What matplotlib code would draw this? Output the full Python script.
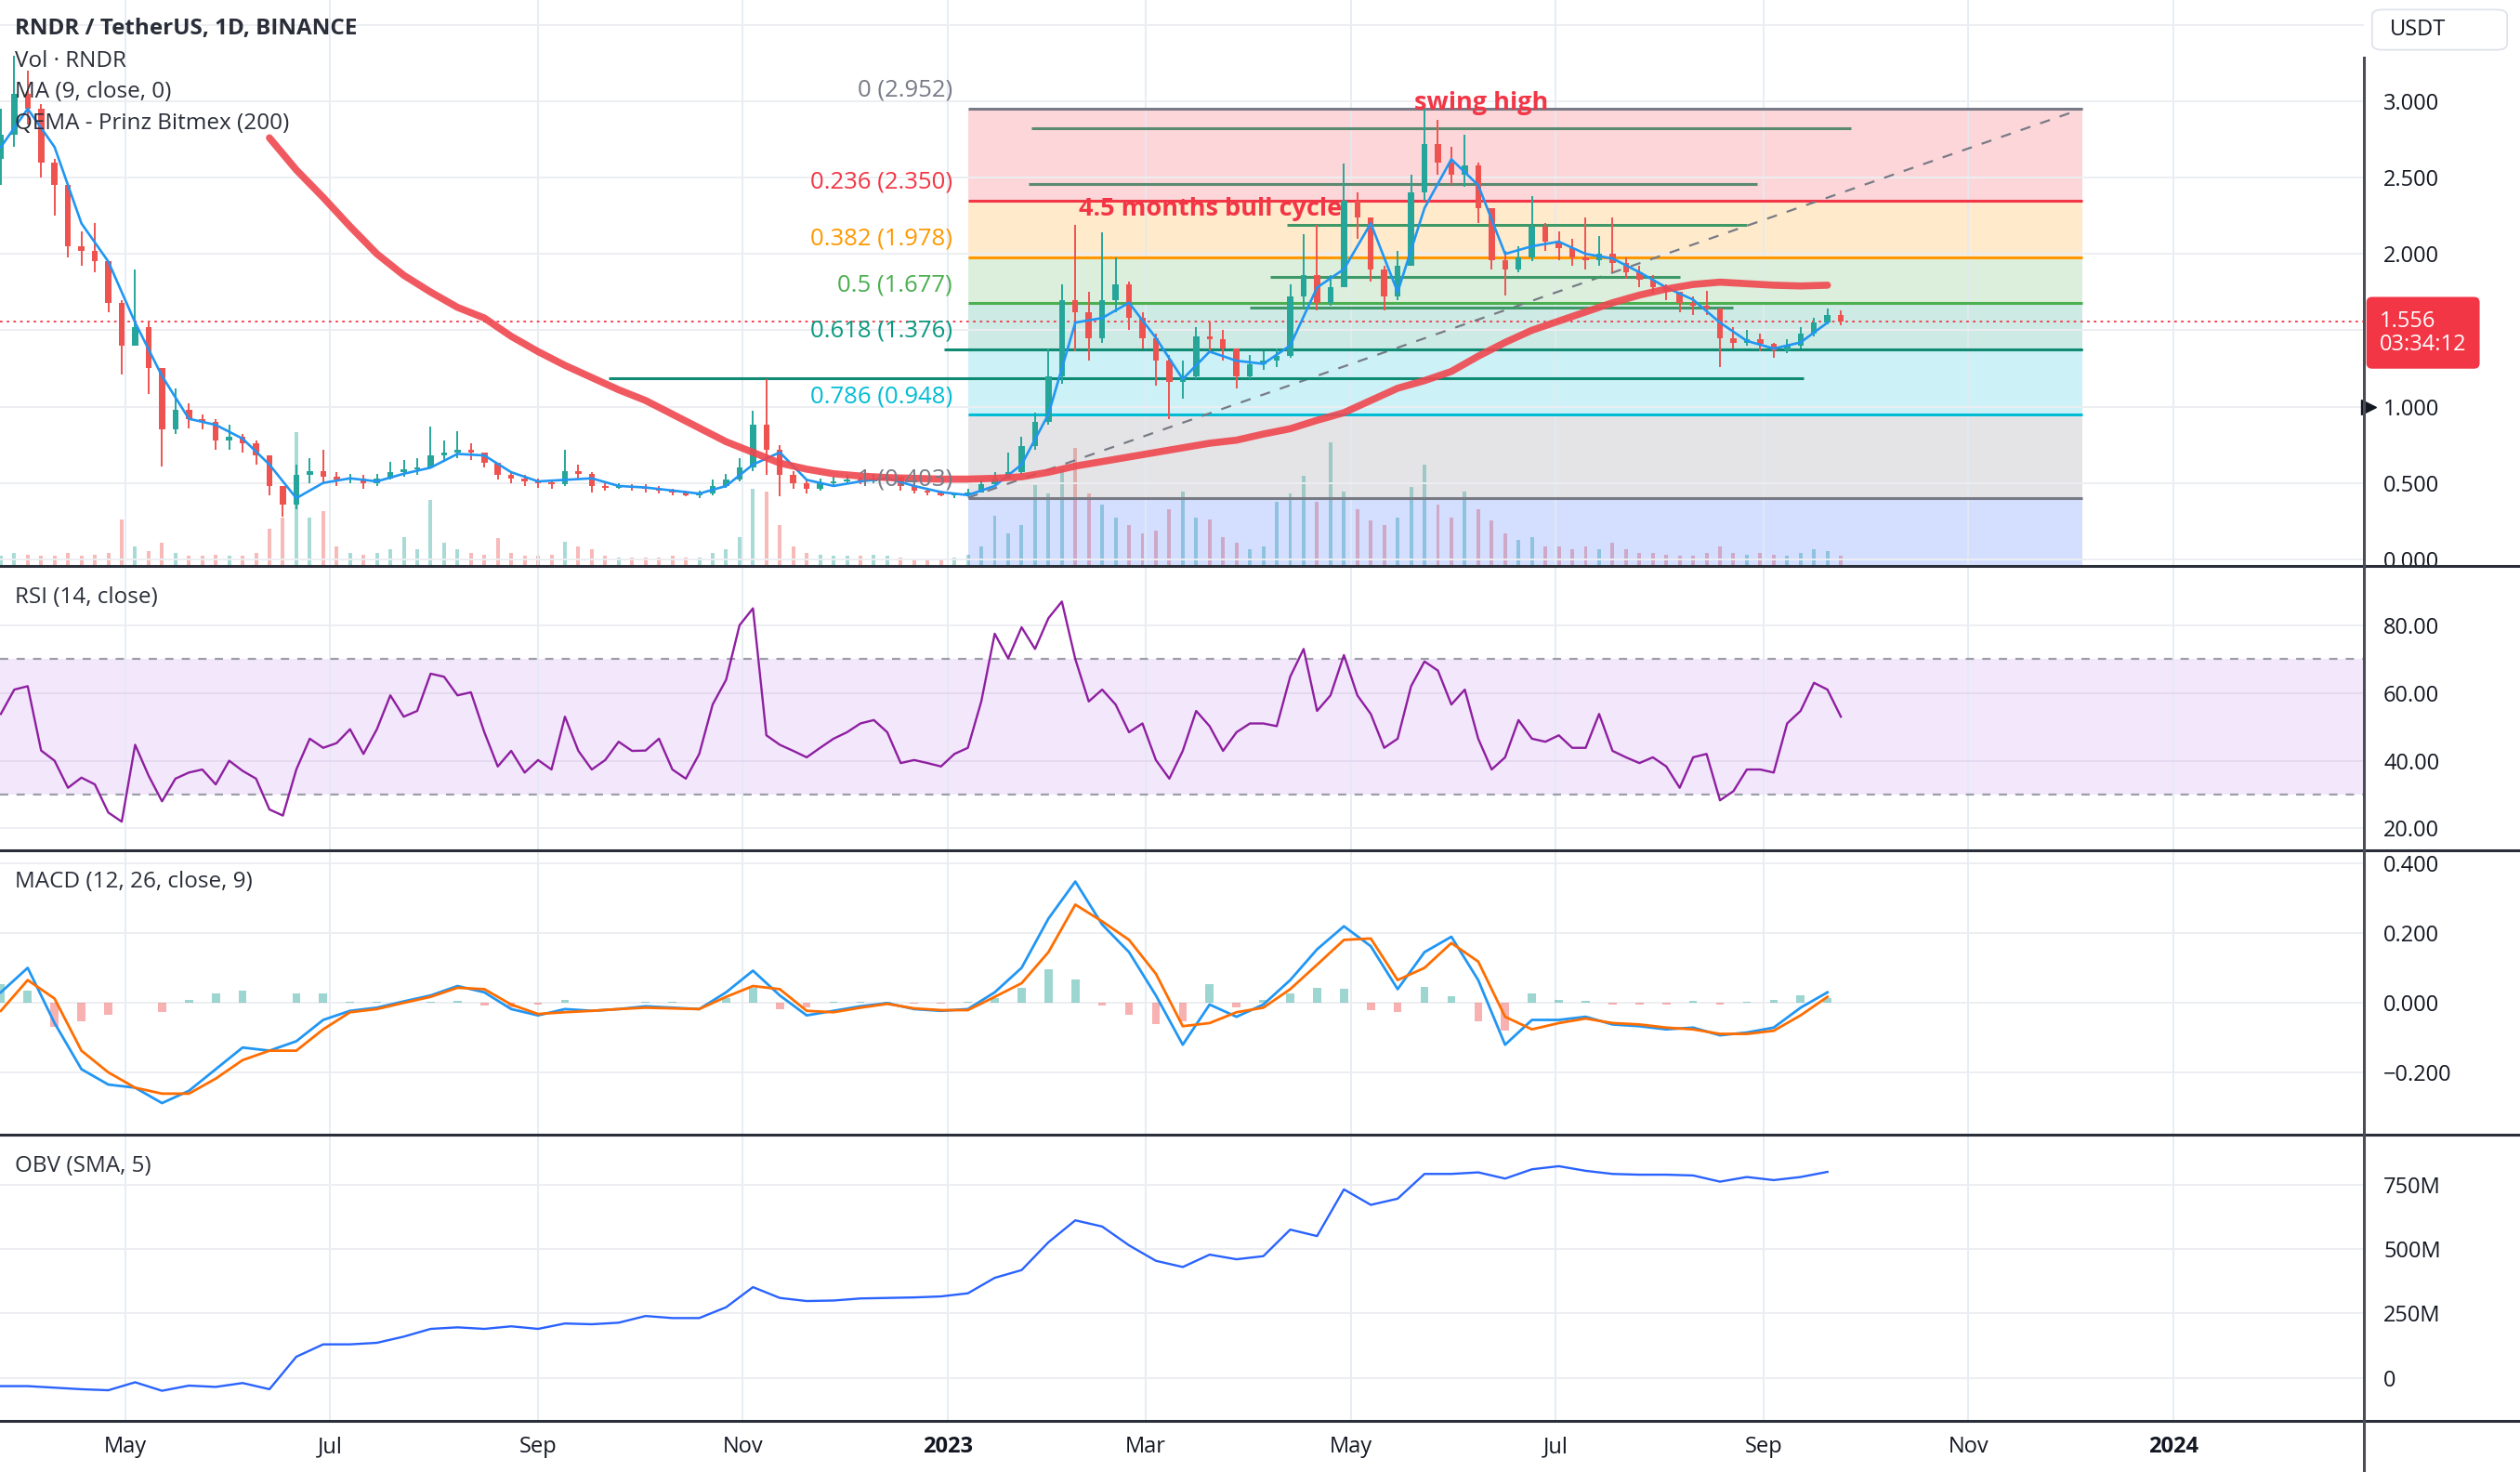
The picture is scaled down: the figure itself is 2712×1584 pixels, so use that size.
# RNDR / USDT daily chart with RSI, MACD and OBV panes (TradingView style)

import pandas as pd
import matplotlib
matplotlib.use("Agg")
import matplotlib.pyplot as plt
import matplotlib.dates as mdates
from matplotlib.lines import Line2D
from matplotlib.patches import FancyBboxPatch
from matplotlib.ticker import FuncFormatter

plt.rcParams['font.family'] = ['Open Sans', 'DejaVu Sans']

# ---------------- data ----------------
# candles sampled every 4 days from 2022-03-25
start = '2022-03-25'
first_open = 2.62
close = [2.78, 3.05, 2.95, 2.60, 2.45, 2.05, 2.02, 1.95, 1.68, 1.40,
         1.52, 1.25, 0.85, 0.98, 0.92, 0.90, 0.78, 0.80, 0.76, 0.68,
         0.48, 0.36, 0.55, 0.58, 0.54, 0.52, 0.53, 0.50, 0.53, 0.57,
         0.59, 0.60, 0.68, 0.70, 0.72, 0.70, 0.63, 0.55, 0.53, 0.51,
         0.50, 0.49, 0.58, 0.56, 0.48, 0.47, 0.48, 0.47, 0.46, 0.45,
         0.44, 0.42, 0.43, 0.48, 0.52, 0.60, 0.88, 0.72, 0.55, 0.50,
         0.46, 0.50, 0.51, 0.52, 0.51, 0.53, 0.54, 0.48, 0.45, 0.44,
         0.42, 0.42, 0.44, 0.49, 0.53, 0.57, 0.74, 0.90, 1.20, 1.70,
         1.62, 1.45, 1.70, 1.80, 1.58, 1.45, 1.30, 1.16, 1.20, 1.46,
         1.44, 1.38, 1.20, 1.28, 1.30, 1.33, 1.72, 1.86, 1.68, 1.78,
         2.35, 2.24, 1.90, 1.72, 1.92, 2.40, 2.72, 2.60, 2.52, 2.58,
         2.30, 1.96, 1.90, 1.98, 2.18, 2.08, 2.04, 1.98, 1.96, 2.00,
         1.94, 1.88, 1.83, 1.78, 1.75, 1.68, 1.66, 1.64, 1.45, 1.42,
         1.44, 1.41, 1.37, 1.40, 1.48, 1.55, 1.60, 1.556]
high = [2.95, 3.30, 3.20, 2.98, 2.62, 2.45, 2.15, 2.20, 1.95, 1.70,
        1.90, 1.55, 1.25, 1.12, 1.02, 0.95, 0.92, 0.88, 0.82, 0.78,
        0.68, 0.48, 0.62, 0.66, 0.72, 0.57, 0.56, 0.55, 0.56, 0.64,
        0.65, 0.66, 0.87, 0.78, 0.84, 0.76, 0.70, 0.63, 0.57, 0.55,
        0.53, 0.52, 0.72, 0.62, 0.57, 0.50, 0.50, 0.49, 0.49, 0.48,
        0.46, 0.45, 0.45, 0.52, 0.56, 0.66, 0.97, 1.18, 0.75, 0.58,
        0.52, 0.53, 0.54, 0.55, 0.54, 0.56, 0.57, 0.54, 0.48, 0.46,
        0.45, 0.44, 0.46, 0.52, 0.57, 0.70, 0.80, 0.96, 1.38, 1.80,
        2.19, 1.75, 2.14, 1.98, 1.82, 1.62, 1.48, 1.34, 1.30, 1.52,
        1.56, 1.50, 1.36, 1.34, 1.36, 1.38, 1.80, 2.13, 2.19, 1.86,
        2.59, 2.40, 2.22, 1.92, 2.02, 2.52, 2.95, 2.88, 2.70, 2.78,
        2.60, 2.30, 2.02, 2.05, 2.38, 2.20, 2.15, 2.10, 2.24, 2.12,
        2.24, 1.98, 1.92, 1.86, 1.80, 1.75, 1.72, 1.76, 1.64, 1.52,
        1.50, 1.48, 1.42, 1.44, 1.52, 1.58, 1.64, 1.63]
low = [2.45, 2.70, 2.85, 2.50, 2.25, 1.98, 1.92, 1.88, 1.62, 1.21,
       1.45, 1.08, 0.61, 0.82, 0.86, 0.85, 0.72, 0.72, 0.70, 0.62,
       0.42, 0.28, 0.33, 0.50, 0.50, 0.48, 0.50, 0.46, 0.48, 0.52,
       0.54, 0.55, 0.60, 0.64, 0.66, 0.65, 0.60, 0.52, 0.50, 0.48,
       0.47, 0.46, 0.48, 0.52, 0.44, 0.45, 0.46, 0.45, 0.44, 0.43,
       0.42, 0.41, 0.40, 0.42, 0.47, 0.51, 0.58, 0.55, 0.41, 0.46,
       0.43, 0.45, 0.48, 0.49, 0.49, 0.50, 0.50, 0.45, 0.43, 0.42,
       0.41, 0.40, 0.41, 0.44, 0.48, 0.53, 0.56, 0.72, 0.88, 1.15,
       1.36, 1.30, 1.42, 1.62, 1.50, 1.38, 1.14, 0.92, 1.05, 1.18,
       1.36, 1.30, 1.12, 1.18, 1.24, 1.26, 1.32, 1.65, 1.63, 1.66,
       1.80, 2.10, 1.82, 1.63, 1.70, 1.95, 2.35, 2.52, 2.45, 2.44,
       2.20, 1.90, 1.73, 1.88, 1.95, 2.02, 1.96, 1.92, 1.90, 1.92,
       1.88, 1.84, 1.78, 1.74, 1.70, 1.62, 1.60, 1.60, 1.26, 1.38,
       1.40, 1.36, 1.32, 1.35, 1.38, 1.46, 1.54, 1.53]
volume = [6, 8, 7, 6, 6, 8, 6, 7, 8, 29, 12, 9, 14, 8, 6, 6, 7, 6, 6, 8,
          23, 30, 83, 30, 34, 12, 8, 7, 8, 10, 18, 10, 41, 14, 10, 8, 7, 17, 8, 6,
          6, 7, 15, 12, 10, 6, 5, 5, 5, 5, 6, 5, 5, 8, 10, 18, 48, 46, 25, 12,
          8, 7, 6, 6, 6, 7, 6, 5, 4, 4, 4, 5, 7, 12, 31, 20, 25, 50, 45, 60,
          73, 45, 38, 30, 25, 20, 22, 35, 46, 30, 29, 18, 14, 10, 12, 40, 45, 56, 40, 77,
          46, 35, 28, 25, 30, 49, 63, 38, 30, 46, 35, 28, 20, 16, 18, 12, 12, 10, 12, 10,
          14, 10, 8, 8, 7, 6, 6, 8, 12, 8, 7, 8, 7, 6, 8, 10, 9, 6]

# RSI every 4 days
rsi = [53.8, 61, 62, 43, 40, 32, 35, 33, 24.7, 22, 44.7, 35.6, 28, 34.7, 36.5,
       37.4, 33, 40, 37, 34.7, 25.6, 23.8, 37.4, 46.5, 43.8, 45.2, 49.3, 42, 49.3,
       59.3, 53, 54.7, 65.7, 64.8, 59.3, 60.2, 48.4, 38.3, 42.9, 36.5, 40.2, 37.4,
       53, 42.9, 37.4, 40.2, 45.6, 42.9, 43, 46.5, 37.4, 34.7, 42, 56.6, 63.9, 80,
       85, 47.5, 44.7, 42.9, 41, 43.8, 46.5, 48.4, 51, 52, 48.4, 39.3, 40.2, 39.3,
       38.3, 42, 43.8, 57.5, 77.5, 70.2, 79.4, 73, 82.1, 87, 70, 57.5, 61, 56.6,
       48.4, 51, 40.2, 34.7, 42.9, 54.7, 50.2, 42.9, 48.4, 51, 51, 50.2, 64.8, 73,
       54.7, 59.3, 71.2, 59.3, 53.8, 43.8, 46.5, 62, 69.3, 66.6, 56.6, 61, 46.5,
       37.4, 41, 52, 46.5, 45.6, 47.5, 43.8, 43.8, 53.8, 42.9, 41, 39.3, 41, 38.3,
       32, 41, 42, 28.3, 31, 37.4, 37.4, 36.5, 51, 54.7, 63, 61, 53]

# smooth series every 8 days
ma9 = [2.70, 2.95, 2.70, 2.20, 1.95, 1.55, 1.20, 0.92, 0.88, 0.79,
       0.62, 0.40, 0.50, 0.53, 0.51, 0.56, 0.60, 0.69, 0.68, 0.57,
       0.51, 0.52, 0.53, 0.48, 0.47, 0.45, 0.43, 0.48, 0.62, 0.70,
       0.52, 0.48, 0.51, 0.53, 0.48, 0.44, 0.42, 0.48, 0.62, 0.95,
       1.55, 1.58, 1.68, 1.45, 1.18, 1.36, 1.30, 1.28, 1.40, 1.78,
       1.90, 2.20, 1.75, 2.30, 2.62, 2.45, 2.00, 2.05, 2.08, 2.00,
       1.97, 1.88, 1.78, 1.70, 1.55, 1.43, 1.38, 1.42, 1.55]
macd = [0.03, 0.10, -0.058, -0.19, -0.234, -0.243, -0.287, -0.252, -0.19, -0.128,
        -0.137, -0.11, -0.049, -0.023, -0.014, 0.004, 0.021, 0.048, 0.03, -0.018,
        -0.036, -0.018, -0.023, -0.018, -0.01, -0.014, -0.018, 0.03, 0.092, 0.021,
        -0.036, -0.023, -0.01, -0.001, -0.018, -0.023, -0.018, 0.03, 0.10, 0.241,
        0.347, 0.224, 0.145, 0.021, -0.12, -0.005, -0.04, -0.005, 0.065, 0.153,
        0.219, 0.162, 0.039, 0.145, 0.189, 0.065, -0.12, -0.049, -0.049, -0.04,
        -0.062, -0.067, -0.076, -0.071, -0.093, -0.085, -0.071, -0.014, 0.03]
signal = [-0.023, 0.065, 0.012, -0.137, -0.199, -0.243, -0.26, -0.26, -0.217, -0.164,
          -0.137, -0.137, -0.076, -0.027, -0.018, 0.0, 0.017, 0.043, 0.039, -0.005,
          -0.032, -0.027, -0.023, -0.018, -0.014, -0.016, -0.018, 0.017, 0.048, 0.039,
          -0.023, -0.027, -0.014, -0.003, -0.016, -0.021, -0.021, 0.017, 0.056, 0.145,
          0.281, 0.233, 0.18, 0.083, -0.067, -0.058, -0.027, -0.014, 0.039, 0.109,
          0.18, 0.184, 0.065, 0.10, 0.171, 0.118, -0.04, -0.076, -0.058, -0.045,
          -0.058, -0.062, -0.071, -0.076, -0.089, -0.089, -0.08, -0.036, 0.017]
hist = [0.053, 0.035, -0.07, -0.053, -0.035, 0.0, -0.027, 0.008, 0.027, 0.036,
        0.0, 0.027, 0.027, 0.004, 0.004, 0.004, 0.004, 0.005, -0.009, -0.013,
        -0.004, 0.009, 0.0, 0.0, 0.004, 0.002, 0.0, 0.013, 0.044, -0.018,
        -0.013, 0.004, 0.004, 0.002, -0.002, -0.002, 0.003, 0.013, 0.044, 0.096,
        0.066, -0.009, -0.035, -0.062, -0.053, 0.053, -0.013, 0.009, 0.026, 0.044,
        0.039, -0.022, -0.026, 0.045, 0.018, -0.053, -0.08, 0.027, 0.009, 0.005,
        -0.004, -0.005, -0.005, 0.005, -0.004, 0.004, 0.009, 0.022, 0.013]
obv = [-32, -32, -38, -44, -48, -17, -50, -30, -35, -20,
       -44, 82, 130, 130, 136, 160, 190, 196, 190, 200,
       190, 211, 208, 214, 240, 232, 232, 274, 352, 310,
       298, 300, 308, 310, 312, 316, 328, 388, 418, 526,
       611, 587, 514, 454, 430, 478, 460, 472, 575, 550,
       731, 671, 695, 791, 791, 797, 773, 809, 821, 803,
       791, 788, 788, 785, 761, 779, 767, 779, 799]

# QEMA (200), every 8 days from 2022-06-13
qema_start = '2022-06-13'
qema = [2.76, 2.55, 2.37, 2.18, 2.00, 1.86, 1.75, 1.65, 1.58, 1.46,
        1.36, 1.27, 1.19, 1.11, 1.04, 0.95, 0.86, 0.77, 0.70, 0.63,
        0.59, 0.56, 0.545, 0.535, 0.53, 0.525, 0.525, 0.53, 0.54, 0.57,
        0.61, 0.64, 0.67, 0.70, 0.73, 0.76, 0.78, 0.82, 0.855, 0.91,
        0.96, 1.04, 1.12, 1.17, 1.23, 1.33, 1.42, 1.50, 1.56, 1.62,
        1.68, 1.73, 1.77, 1.80, 1.815, 1.805, 1.795, 1.79, 1.795]

# Fibonacci retracement drawing
fib_start, fib_end = '2023-01-07', '2023-12-05'
fib_levels = [0, 0.236, 0.382, 0.5, 0.618, 0.786, 1]
fib_prices = [2.952, 2.350, 1.978, 1.677, 1.376, 0.948, 0.403]
fib_ext_price = -1.172   # 1.618 level, below the pane
fib_colors = ['#787b86', '#f23645', '#ff9800', '#4caf50', '#089981', '#00bcd4', '#787b86']
fib_fills = ['#f23645', '#ff9800', '#4caf50', '#089981', '#00bcd4', '#787b86', '#2962ff']

# hand-drawn horizontal lines (price, from, to, colour)
hlines = [(2.82, '2023-01-26', '2023-09-27', '#5a8a70'),
          (2.46, '2023-01-25', '2023-08-30', '#5a8a70'),
          (2.19, '2023-04-12', '2023-08-27', '#3f9868'),
          (1.847, '2023-04-07', '2023-08-07', '#3f9868'),
          (1.65, '2023-04-01', '2023-08-23', '#3f9868'),
          (1.376, '2022-12-31', '2023-12-05', '#0f8a73'),
          (1.184, '2022-09-22', '2023-09-13', '#0f8a73')]

month_ticks = ['2022-05-01', '2022-07-01', '2022-09-01', '2022-11-01', '2023-01-01',
               '2023-03-01', '2023-05-01', '2023-07-01', '2023-09-01', '2023-11-01',
               '2024-01-01']
month_labels = ['May', 'Jul', 'Sep', 'Nov', '2023', 'Mar', 'May', 'Jul', 'Sep', 'Nov', '2024']

# ---------------- figure ----------------
UP, DOWN = '#26a69a', '#ef5350'
TXT = '#131722'
GRID = '#eceef2'
VGRID = '#e2eaf2'

d4 = mdates.date2num(pd.date_range(start, periods=len(close), freq='4D'))
d8 = d4[::2]
dq = mdates.date2num(pd.date_range(qema_start, periods=len(qema), freq='8D'))
opens = [first_open] + close[:-1]

fig = plt.figure(figsize=(27.12, 15.84), dpi=100)
fig.patch.set_facecolor('white')
W = 1471 / 1568
ax_p = fig.add_axes([0, 1 - 352 / 916, W, 352 / 916])
# volume gets its own scale; create the twin first (twinx moves ticks left)
ax_v = ax_p.twinx()
ax_r = fig.add_axes([0, 1 - 529 / 916, W, 177 / 916])
ax_m = fig.add_axes([0, 1 - 706 / 916, W, 177 / 916])
ax_o = fig.add_axes([0, 1 - 884 / 916, W, 178 / 916])

xmin = mdates.date2num(pd.Timestamp('2022-03-24 18:00'))
xmax = mdates.date2num(pd.Timestamp('2024-02-26 20:00'))
ticks_x = mdates.date2num(pd.to_datetime(month_ticks))

for a in (ax_p, ax_r, ax_m, ax_o):
    a.set_xlim(xmin, xmax)
    for s in a.spines.values():
        s.set_visible(False)
    a.yaxis.tick_right()
    a.tick_params(axis='y', length=0, pad=15, labelsize=17, labelcolor=TXT,
                  left=False, labelleft=False, right=True, labelright=True)
    a.set_xticks(ticks_x)
    a.tick_params(axis='x', length=0)
    a.grid(True, axis='y', color=GRID, lw=1.4)
    a.grid(True, axis='x', color=VGRID, lw=1.2)
    a.set_axisbelow(True)
    a.set_xticklabels([])

# ---- price pane ----
ax_p.set_ylim(-0.042, 3.663)
ax_p.set_yticks([0, 0.5, 1, 1.5, 2, 2.5, 3, 3.5])
# 1.500 sits under the last-price tag and 3.500 under the currency box
ax_p.yaxis.set_major_formatter(FuncFormatter(
    lambda v, p: '' if (v > 3.2 or abs(v - 1.5) < 1e-6) else f'{v:.3f}'))

ax_v.set_ylim(0, 352)
ax_v.set_yticks([])
ax_v.axis('off')
ax_p.set_zorder(ax_v.get_zorder() + 1)
ax_p.patch.set_visible(False)
vcol = [UP if c >= o else DOWN for o, c in zip(opens, close)]
ax_v.bar(d4, volume, width=1.1, color=vcol, alpha=0.4, linewidth=0)

# fib box
fx0, fx1 = mdates.date2num(pd.Timestamp(fib_start)), mdates.date2num(pd.Timestamp(fib_end))
bounds = fib_prices + [fib_ext_price]
for i in range(len(bounds) - 1):
    ax_p.fill_between([fx0, fx1], bounds[i + 1], bounds[i], color=fib_fills[i], alpha=0.2,
                      linewidth=0, zorder=0.5)
for lvl, pr, col in zip(fib_levels, fib_prices, fib_colors):
    ax_p.hlines(pr, fx0, fx1, color=col, lw=2.2, zorder=1)
    ax_p.annotate(f'{lvl:g} ({pr:.3f})', xy=(fx0, pr), xytext=(-12, 14),
                  textcoords='offset points', ha='right', va='center',
                  color=col, fontsize=18.5, zorder=6)
ax_p.plot([fx0, fx1], [fib_prices[-1], fib_prices[0]], color='#787b86', lw=1.6,
          ls=(0, (5, 5)), zorder=1.5)

for pr, a0, a1, col in hlines:
    ax_p.hlines(pr, mdates.date2num(pd.Timestamp(a0)), mdates.date2num(pd.Timestamp(a1)),
                color=col, lw=2.2, zorder=1.6)

# candles
for x, o, h, l, c in zip(d4, opens, high, low, close):
    col = UP if c >= o else DOWN
    ax_p.vlines(x, min(l, o, c), max(h, o, c), color=col, lw=1.4, zorder=3)
    ax_p.bar(x, max(abs(c - o), 0.012), bottom=min(o, c), width=1.8, color=col,
             linewidth=0, zorder=3)

ax_p.plot(d8, ma9, color='#2196f3', lw=1.9, zorder=4)
ax_p.plot(dq, qema, color='#f0474f', lw=5.5, alpha=0.9, solid_capstyle='round', zorder=4)

last = close[-1]
ax_p.axhline(last, color='#f23645', lw=1.3, ls=(0, (1.5, 2.5)), zorder=2)

# annotations
ax_p.text(mdates.date2num(pd.Timestamp('2023-05-20')), 2.99, 'swing high', color='#f23645',
          fontsize=19.5, fontweight='bold', ha='left', va='center', zorder=6)
ax_p.text(mdates.date2num(pd.Timestamp('2023-02-09')), 2.295, '4.5 months bull cycle',
          color='#f23645', fontsize=19.5, fontweight='bold', ha='left', va='center', zorder=6)

# legend-style headers
hdr = dict(transform=ax_p.transAxes, ha='left', va='center', fontsize=17.5, color='#2a2e39', zorder=7)
ax_p.text(0.0061, 0.949, 'RNDR / TetherUS, 1D, BINANCE', fontweight='bold', **hdr)
ax_p.text(0.0061, 0.892, 'Vol · RNDR', **hdr)
ax_p.text(0.0061, 0.838, 'MA (9, close, 0)', **hdr)
ax_p.text(0.0061, 0.781, 'QEMA - Prinz Bitmex (200)', **hdr)

# last price tag and axis marker
ax_p.annotate(f'{last:.3f}\n03:34:12', xy=(1, last), xycoords=('axes fraction', 'data'),
              xytext=(12, 9), textcoords='offset points', ha='left', va='top',
              color='white', fontsize=17, linespacing=1.05, annotation_clip=False,
              bbox=dict(boxstyle='round,pad=0.6,rounding_size=0.25', fc='#f23645', ec='none'),
              zorder=10)
ax_p.plot([1.002], [1.0], marker='>', color=TXT, markersize=12, clip_on=False,
          transform=ax_p.get_yaxis_transform(), zorder=10)

# currency box
fig.add_artist(FancyBboxPatch((1476 / 1568, 1 - 31 / 916), 84 / 1568, 25 / 916,
                              boxstyle='round,pad=0,rounding_size=0.004',
                              transform=fig.transFigure, fc='white', ec='#e0e3eb', lw=1.3))
fig.text(1487 / 1568, 1 - 18.5 / 916, 'USDT', ha='left', va='center', fontsize=17, color=TXT)

# ---- RSI pane ----
ax_r.set_ylim(13.6, 97.6)
ax_r.set_yticks([20, 40, 60, 80])
ax_r.yaxis.set_major_formatter(FuncFormatter(lambda v, p: f'{v:.2f}'))
ax_r.axhspan(30, 70, color='#f3e7fc', linewidth=0, zorder=0.5)
ax_r.axhline(60, color='#e4d9ee', lw=1.4, zorder=0.6)
ax_r.axhline(40, color='#e4d9ee', lw=1.4, zorder=0.6)
for lv in (30, 70):
    ax_r.axhline(lv, color='#9b9ea7', lw=1.6, ls=(0, (4, 4)), zorder=1)
ax_r.plot(d4, rsi, color='#8e1fa0', lw=1.7, zorder=3)
ax_r.text(0.0061, 0.887, 'RSI (14, close)', transform=ax_r.transAxes, ha='left', va='center',
          fontsize=17.5, color='#2a2e39')

# ---- MACD pane ----
ax_m.set_ylim(-0.377, 0.437)
ax_m.set_yticks([-0.2, 0, 0.2, 0.4])
ax_m.yaxis.set_major_formatter(FuncFormatter(lambda v, p: f'{v:.3f}'.replace('-', '\u2212')))
hcol = ['#26a69a' if h >= 0 else '#ef5350' for h in hist]
ax_m.bar(d8, hist, width=2.4, color=hcol, alpha=0.45, linewidth=0, zorder=2)
ax_m.plot(d8, macd, color='#2196f3', lw=2.0, zorder=3)
ax_m.plot(d8, signal, color='#ff6d00', lw=2.0, zorder=3)
ax_m.text(0.0061, 0.887, 'MACD (12, 26, close, 9)', transform=ax_m.transAxes, ha='left',
          va='center', fontsize=17.5, color='#2a2e39')

# ---- OBV pane ----
ax_o.set_ylim(-165.6, 943.75)
ax_o.set_yticks([0, 250, 500, 750])
ax_o.yaxis.set_major_formatter(FuncFormatter(lambda v, p: '0' if v == 0 else f'{v:.0f}M'))
ax_o.plot(d8, obv, color='#2962ff', lw=1.7, zorder=3)
ax_o.text(0.0061, 0.888, 'OBV (SMA, 5)', transform=ax_o.transAxes, ha='left', va='center',
          fontsize=17.5, color='#2a2e39')
ax_o.set_xticklabels(month_labels)
ax_o.tick_params(axis='x', pad=12, labelsize=17, labelcolor=TXT)
for lab in ax_o.get_xticklabels():
    if lab.get_text().isdigit():
        lab.set_fontweight('bold')

# pane separators and price scale border
for yy in (352, 529, 706, 884):
    fig.add_artist(Line2D([0, 1], [1 - yy / 916, 1 - yy / 916], transform=fig.transFigure,
                          color='#2a2e39', lw=2.2))
fig.add_artist(Line2D([W, W], [0, 1 - 36 / 916], transform=fig.transFigure,
                      color='#4a4d57', lw=2.2))

fig.savefig('out.png', dpi=100)
